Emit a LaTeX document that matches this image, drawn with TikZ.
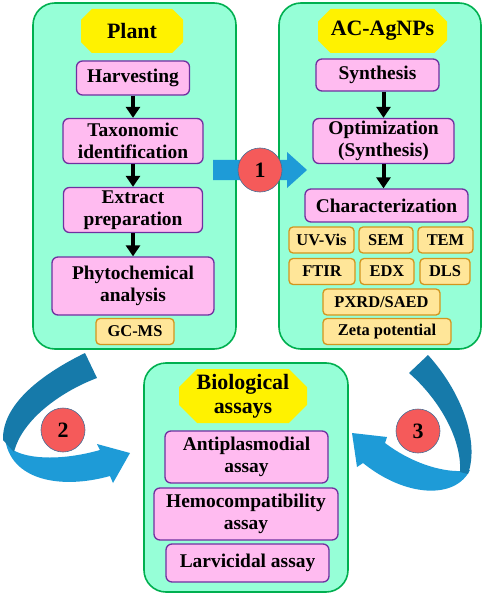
\documentclass[tikz,border=0pt]{standalone}
\usepackage{fontspec}
\setmainfont{Liberation Serif}
\usepackage{xcolor}
\usetikzlibrary{arrows.meta,positioning,shapes.misc}
\definecolor{panelfill}{RGB}{150,255,215}
\definecolor{panelline}{RGB}{0,176,80}
\definecolor{stepfill}{RGB}{255,187,240}
\definecolor{stepline}{RGB}{112,48,160}
\definecolor{techfill}{RGB}{255,230,153}
\definecolor{techline}{RGB}{210,150,30}
\definecolor{arrowblue}{RGB}{30,155,215}
\definecolor{arrowdark}{RGB}{22,122,170}
\definecolor{numred}{RGB}{245,90,90}
\definecolor{numline}{RGB}{70,110,150}

\begin{document}
\begin{tikzpicture}[x=1bp,y=-1bp,
        panel/.style={draw=panelline, line width=1.6bp, fill=panelfill, rounded corners=22bp, inner sep=0pt},
        title/.style={chamfered rectangle, chamfered rectangle xsep=11bp, fill=yellow, inner sep=0pt,
            align=center, font=\fontsize{22}{24}\selectfont\bfseries},
        stepbox/.style={draw=stepline, line width=1.3bp, fill=stepfill, rounded corners=6bp, inner sep=0pt,
            align=center, font=\fontsize{19.5}{22.5}\selectfont\bfseries},
        techbox/.style={draw=techline, line width=1.3bp, fill=techfill, rounded corners=4bp, inner sep=0pt,
            minimum height=26bp, font=\fontsize{16.5}{19}\selectfont\bfseries},
        flow/.style={line width=4bp, -{Triangle[width=14bp,length=11bp]}},
        num/.style={circle, draw=numline, line width=0.6bp, fill=numred, minimum size=44bp, inner sep=0pt,
            font=\fontsize{22}{22}\selectfont\bfseries}]
    \useasboundingbox (0,0) rectangle (484,594);
    % Panels
    \node[panel, minimum width=203bp, minimum height=346bp] (plantpanel) at (134.5,176) {};
    \node[panel, minimum width=202bp, minimum height=346bp] (agnppanel) at (380,176) {};
    \node[panel, minimum width=204bp, minimum height=229bp] (biopanel) at (246,477.5) {};
    % Plant
    \node[title, minimum width=102bp, minimum height=44bp] (plant) at (132,31) {Plant};
    \node[stepbox, minimum width=113bp, minimum height=34bp] (harvest) at (133,78) {Harvesting};
    \node[stepbox, minimum width=140bp, minimum height=45bp] (taxo) at (133,141) {Taxonomic\\identification};
    \node[stepbox, minimum width=139bp, minimum height=45bp] (extract) at (133,210) {Extract\\preparation};
    \node[stepbox, minimum width=162bp, minimum height=58bp] (phyto) at (133,286) {Phytochemical\\analysis};
    \node[techbox, minimum width=78bp] (gcms) at (135,331.5) {GC-MS};
    \draw[flow] (harvest) -- (taxo);
    \draw[flow] (taxo) -- (extract);
    \draw[flow] (extract) -- (phyto);
    % AC-AgNPs
    \node[title, minimum width=129bp, minimum height=44bp] (agnp) at (382.5,31) {AC-AgNPs};
    \node[stepbox, minimum width=123bp, minimum height=32bp] (synth) at (377.5,75) {Synthesis};
    \node[stepbox, minimum width=141bp, minimum height=45bp] (optim) at (383.5,141) {Optimization\\(Synthesis)};
    \node[stepbox, minimum width=163bp, minimum height=33bp] (charac) at (386.5,205.5) {Characterization};
    \draw[flow] (synth.south -| optim) -- (optim.north);
    \draw[flow] (optim.south) -- (optim.south |- charac.north);
    \node[techbox, minimum width=65bp] (uvvis) at (321.5,240) {UV-Vis};
    \node[techbox, minimum width=54bp] (sem) at (386,240) {SEM};
    \node[techbox, minimum width=55bp] (tem) at (445.5,240) {TEM};
    \node[techbox, minimum width=66bp] (ftir) at (322,271.5) {FTIR};
    \node[techbox, minimum width=54bp] (edx) at (387,271.5) {EDX};
    \node[techbox, minimum width=50bp] (dls) at (445,271.5) {DLS};
    \node[techbox, minimum width=117bp] (pxrd) at (381.5,302) {PXRD/SAED};
    \node[techbox, minimum width=128bp] (zeta) at (387,331.5) {Zeta potential};
    % Biological assays
    \node[title, minimum width=128bp, minimum height=54bp, chamfered rectangle xsep=15bp] (bio) at (243,396) {Biological\\assays};
    \node[stepbox, minimum width=163bp, minimum height=52bp] (antiplas) at (246.5,457) {Antiplasmodial\\assay};
    \node[stepbox, minimum width=184bp, minimum height=52bp] (hemo) at (246,514) {Hemocompatibility\\assay};
    \node[stepbox, minimum width=163bp, minimum height=38bp] (larvi) at (247.5,563) {Larvicidal assay};
    % Big arrows
    \fill[arrowblue] (213,160) -- (287,160) -- (287,152) -- (307,170) -- (287,188) -- (287,180) -- (213,180) -- cycle;
    \fill[arrowblue] (5,438) .. controls (10,480) and (60,490) .. (110,476) -- (113,483) -- (130,453)
        -- (97,444) -- (100,450) .. controls (65,460) and (30,460) .. (13,450) -- cycle;
    \fill[arrowdark] (85,353) .. controls (40,375) and (2,405) .. (3,440) -- (14,452)
        .. controls (22,420) and (60,392) .. (97,378) -- cycle;
    \fill[arrowblue] (470,470) .. controls (455,500) and (405,497) .. (363,463) -- (357,467) -- (352,433)
        -- (387,437) -- (385,443) .. controls (410,462) and (440,472) .. (462,471) -- cycle;
    \fill[arrowdark] (428,355) .. controls (460,390) and (480,440) .. (468,474) -- (460,472)
        .. controls (462,440) and (440,400) .. (409,373) -- cycle;
    \node[num] (one) at (260,170) {1};
    \node[num] (two) at (63,430) {2};
    \node[num] (three) at (418,431) {3};
\end{tikzpicture}
\end{document}
